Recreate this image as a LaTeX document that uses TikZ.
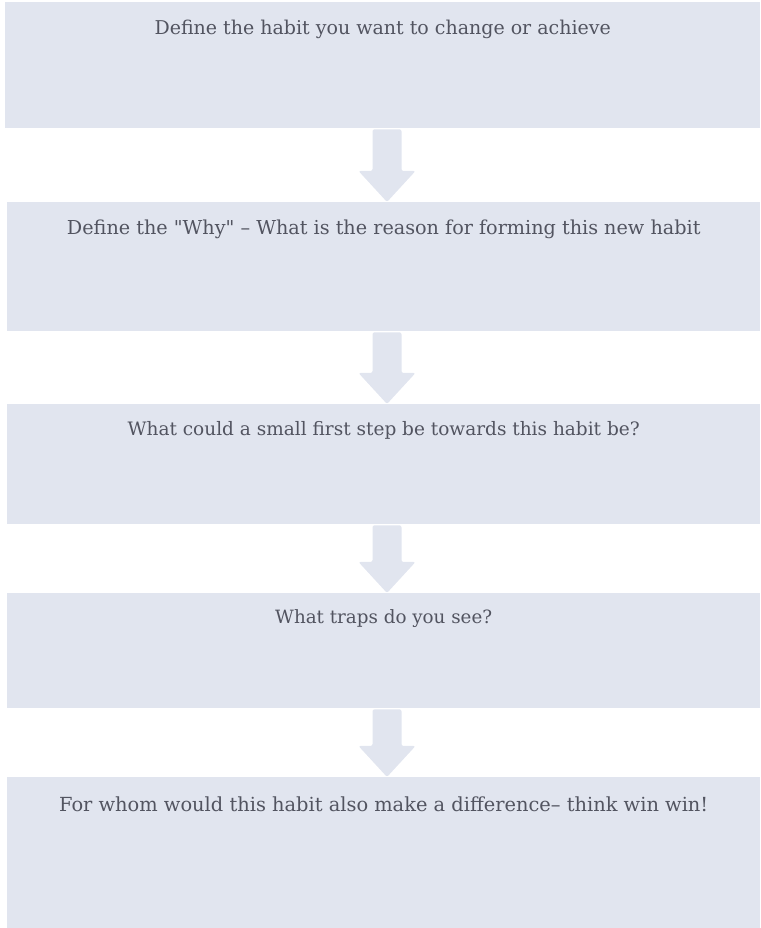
\documentclass[tikz,border=0pt]{standalone}
\usepackage{fontspec}
\newfontfamily\stepfont{DejaVu Serif}
\usetikzlibrary{calc}

\definecolor{boxgray}{RGB}{225,229,239}
\definecolor{textgray}{RGB}{82,84,96}

\begin{document}
\begin{tikzpicture}[x=1pt, y=1pt,
    stepbox/.style={fill=boxgray, anchor=north west, inner sep=0pt,
        minimum width=#1, align=center, text=textgray,
        font=\stepfont\fontsize{18.5}{22}\selectfont},
    arrowfill/.style={fill=boxgray, rounded corners=2pt}]
    \useasboundingbox (0,0) rectangle (760,928);
    \coordinate (axis) at (387,0);

    % boxes, top edge given in pixels from the top
    \node[stepbox=755, text height=32, text depth=94, font=\stepfont\fontsize{19}{22}\selectfont]
        (b1) at (5,926) {Define the habit you want to change or achieve};
    \node[stepbox=753, text height=32, text depth=97, font=\stepfont\fontsize{19.2}{22}\selectfont]
        (b2) at (7,726) {Define the "Why" – What is the reason for forming this new habit};
    \node[stepbox=753, text height=31, text depth=89]
        (b3) at (7,524) {What could a small first step be towards this habit be?};
    \node[stepbox=753, text height=30, text depth=85, font=\stepfont\fontsize{18.3}{22}\selectfont]
        (b4) at (7,335) {What traps do you see?};
    \node[stepbox=753, text height=34, text depth=117, font=\stepfont\fontsize{19.4}{22}\selectfont]
        (b5) at (7,151) {For whom would this habit also make a difference– think win win!};

    \foreach \up/\down in {b1/b2, b2/b3, b3/b4, b4/b5} {
        \coordinate (s) at ($(\up.south -| axis)+(0,-1)$);
        \coordinate (t) at (\down.north -| axis);
        \fill[arrowfill] ($(s)+(-14.5,0)$) -- ($(t)+(-14.5,31)$) -- ($(t)+(-28.5,31)$)
            -- (t) -- ($(t)+(28.5,31)$) -- ($(t)+(14.5,31)$) -- ($(s)+(14.5,0)$) -- cycle;
    }
\end{tikzpicture}
\end{document}
